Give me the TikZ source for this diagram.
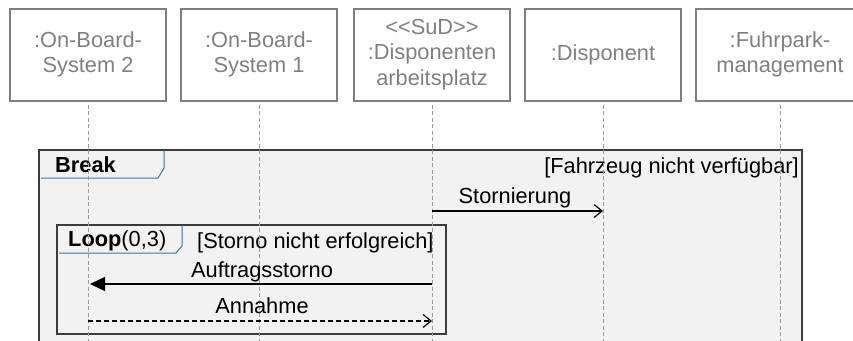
\documentclass[tikz,border=0pt]{standalone}
\usepackage{fontspec}
\setmainfont{Liberation Sans}
\usepackage{xcolor}
\usepackage{tikz}
\usetikzlibrary{arrows.meta}

\definecolor{headgray}{HTML}{808080}
\definecolor{lifegray}{HTML}{9A9A9A}
\definecolor{fragfill}{HTML}{F2F2F2}
\definecolor{fragdraw}{HTML}{3C3C3C}
\definecolor{tabblue}{HTML}{41719C}

\tikzset{
  lifebox/.style={draw=headgray, line width=2pt, text=headgray, align=center,
    minimum width=156pt, minimum height=92pt},
  lifeline/.style={draw=lifegray, line width=0.9pt, dash pattern=on 4pt off 2.5pt},
  fragment/.style={fill=fragfill, draw=fragdraw, line width=1.2pt},
  fragtab/.style={draw=tabblue, line width=1pt},
  msg/.style={draw=black, line width=1.2pt, -{Straight Barb[length=8pt, width=13pt, line width=1.2pt]}},
  msgsync/.style={draw=black, line width=1.2pt, -{Triangle[length=15pt, width=14pt]}},
  msgreply/.style={msg, dash pattern=on 5pt off 3pt}
}

\begin{document}
\begin{tikzpicture}[x=1pt, y=-1pt, every node/.style={font=\fontsize{21.8}{25.5}\selectfont, inner sep=0pt}]
  \useasboundingbox (0,0) rectangle (853,340);
  \clip (0,0) rectangle (853,340);
  % lifeline heads
  \node[lifebox] (obs2) at (88,54.5) {:On-Board-\\System 2};
  \node[lifebox] (obs1) at (259,54.5) {:On-Board-\\System 1};
  \node[lifebox] (sud) at (432,54.5) {<\kern0pt<SuD>\kern0pt>\\:Disponenten\\arbeitsplatz};
  \node[lifebox] (dispo) at (603,54.5) {:Disponent};
  \node[lifebox, minimum width=168pt] (fuhrpark) at (780,54.5) {:Fuhrpark-\\management};
  % break fragment
  \filldraw[fragment] (39,150) rectangle (802,370);
  \draw[fragtab] (41,178) -- (158,178) -- (164,168) -- (164,150);
  \node[anchor=base west] (brkname) at (55,172) {\bfseries Break};
  \node[anchor=base east] (brkguard) at (799,173) {[Fahrzeug nicht verfügbar]};
  % loop fragment
  \filldraw[fragment] (57,225) rectangle (446,334);
  \draw[fragtab] (59,253) -- (176,253) -- (182,246) -- (182,225);
  \node[anchor=base west] (loopname) at (68,246) {\textbf{Loop}(0,3)};
  \node[anchor=base west] (loopguard) at (197,248) {[Storno nicht erfolgreich]};
  % lifelines
  \foreach \obj in {obs2, obs1, sud, dispo, fuhrpark}
    \draw[lifeline] (\obj.south) ++(0,3) -- ++(0,250);
  % messages
  \coordinate (sud-storno) at (sud.south |- 0,211);
  \coordinate (dispo-storno) at (dispo.south |- 0,211);
  \coordinate (sud-auftrag) at (sud.south |- 0,284);
  \coordinate (obs2-auftrag) at (obs2.south |- 0,284);
  \coordinate (obs2-annahme) at (obs2.south |- 0,321);
  \coordinate (sud-annahme) at (sud.south |- 0,321);
  \draw[msg] (sud-storno) -- (dispo-storno);
  \node[anchor=base] (stornolbl) at (515,203) {Stornierung};
  \draw[msgsync] (sud-auftrag) -- ([xshift=2pt]obs2-auftrag);
  \node[anchor=base] (auftraglbl) at (262,277) {Auftragsstorno};
  \draw[msgreply] (obs2-annahme) -- (sud-annahme);
  \node[anchor=base] (annahmelbl) at (262,313) {Annahme};
\end{tikzpicture}
\end{document}
